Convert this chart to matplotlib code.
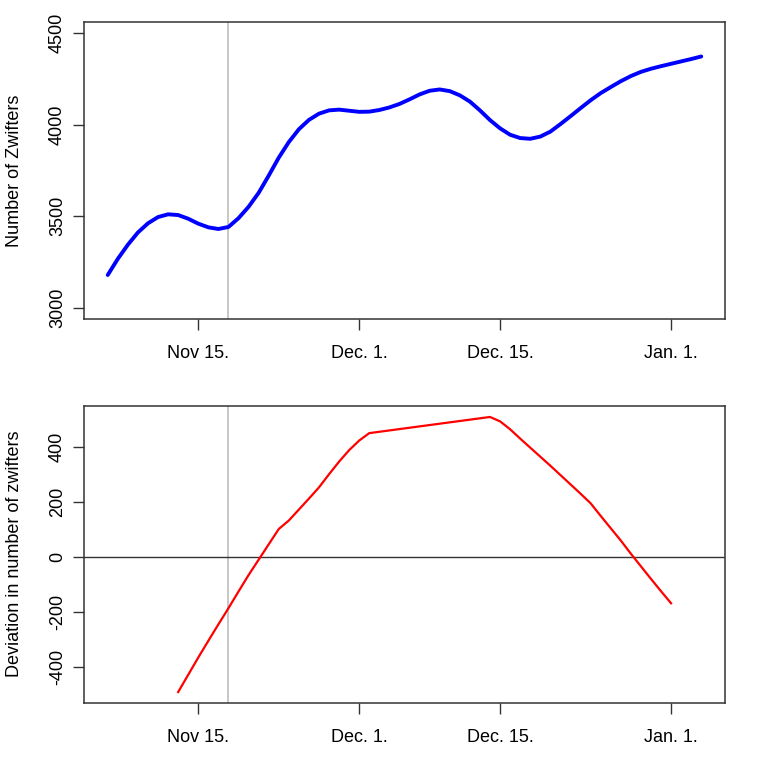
import matplotlib
matplotlib.use("Agg")
import matplotlib.pyplot as plt

plt.rcParams['font.family'] = ['Liberation Sans', 'DejaVu Sans']

# Days counted from Nov 15.
top_days = [-9, -8, -7, -6, -5, -4, -3, -2, -1, 0, 1, 2, 3, 4, 5, 6, 7, 8, 9, 10,
            11, 12, 13, 14, 15, 16, 17, 18, 19, 20, 21, 22, 23, 24, 25, 26, 27, 28, 29, 30,
            31, 32, 33, 34, 35, 36, 37, 38, 39, 40, 41, 42, 43, 44, 45, 46, 47, 48, 49, 50]
top_values = [3180, 3268, 3345, 3412, 3462, 3496, 3511, 3507, 3487, 3460, 3440, 3431, 3442, 3490, 3552, 3628, 3722, 3820, 3905, 3975,
              4026, 4060, 4078, 4082, 4076, 4070, 4071, 4080, 4094, 4113, 4138, 4165, 4185, 4192, 4183, 4160, 4126, 4078, 4025, 3980,
              3945, 3927, 3923, 3935, 3962, 4003, 4046, 4090, 4133, 4172, 4205, 4237, 4265, 4288, 4305, 4319, 4332, 4345, 4358, 4372]

bot_days = [-2, -1, 0, 1, 2, 3, 4, 5, 6, 7, 8, 9, 10, 11, 12, 13, 14, 15, 16, 17,
            29, 30, 31, 32, 33, 34, 35, 36, 37, 38, 39, 40, 41, 42, 43, 44, 45, 46, 47]
bot_values = [-493, -430, -367, -306, -246, -187, -126, -66, -10, 46, 102, 133, 173, 213, 254, 302, 348, 390, 425, 452,
              511, 495, 466, 432, 399, 366, 333, 299, 265, 231, 196, 150, 105, 60, 12, -34, -80, -125, -169]

tick_days = [0, 16, 30, 47]
tick_labels = ["Nov 15.", "Dec. 1.", "Dec. 15.", "Jan. 1."]
marker_day = 3

top_yticks = [3000, 3500, 4000, 4500]
bot_yticks = [-400, -200, 0, 200, 400]

fig = plt.figure(figsize=(7.68, 7.67), dpi=100)
W, H = 768, 767
def axrect(l, t, r, b):
    return [l / W, 1 - b / H, (r - l) / W, (b - t) / H]

ax1 = fig.add_axes(axrect(84, 22, 725, 319))
ax2 = fig.add_axes(axrect(84, 406, 725, 703))

xlim = (-9 - 59 * 0.04, 50 + 59 * 0.04)

for ax in (ax1, ax2):
    ax.set_xlim(*xlim)
    ax.set_xticks(tick_days)
    ax.set_xticklabels(tick_labels)
    ax.axvline(marker_day, color='#bdbdbd', lw=1.2, zorder=1)
    for s in ax.spines.values():
        s.set_linewidth(1.1)
        s.set_color('#333333')
    ax.tick_params(axis='both', length=8, width=1.0, color='#333333', labelsize=13)
    ax.tick_params(axis='x', pad=10.5)
    ax.tick_params(axis='y', pad=5)

ax1.plot(top_days, top_values, color='#0000ff', lw=2.8, solid_capstyle='round',
         solid_joinstyle='round', zorder=3)
ax1.set_ylim(2940, 4560)
ax1.set_yticks(top_yticks)
ax1.set_yticklabels([str(v) for v in top_yticks], rotation=90, va='center')

ax2.axhline(0, color='#333333', lw=1.0, zorder=2)
ax2.plot(bot_days, bot_values, color='#ff0000', lw=1.6, zorder=3)
ax2.set_ylim(-533, 551)
ax2.set_yticks(bot_yticks)
ax2.set_yticklabels([str(v) for v in bot_yticks], rotation=90, va='center')

fig.text(15 / W, 1 - 171 / H, "Number of Zwifters", rotation=90, ha='center', va='center', fontsize=13)
fig.text(15 / W, 1 - 554 / H, "Deviation in number of zwifters", rotation=90, ha='center', va='center', fontsize=13)

fig.savefig("out.png", dpi=100)
